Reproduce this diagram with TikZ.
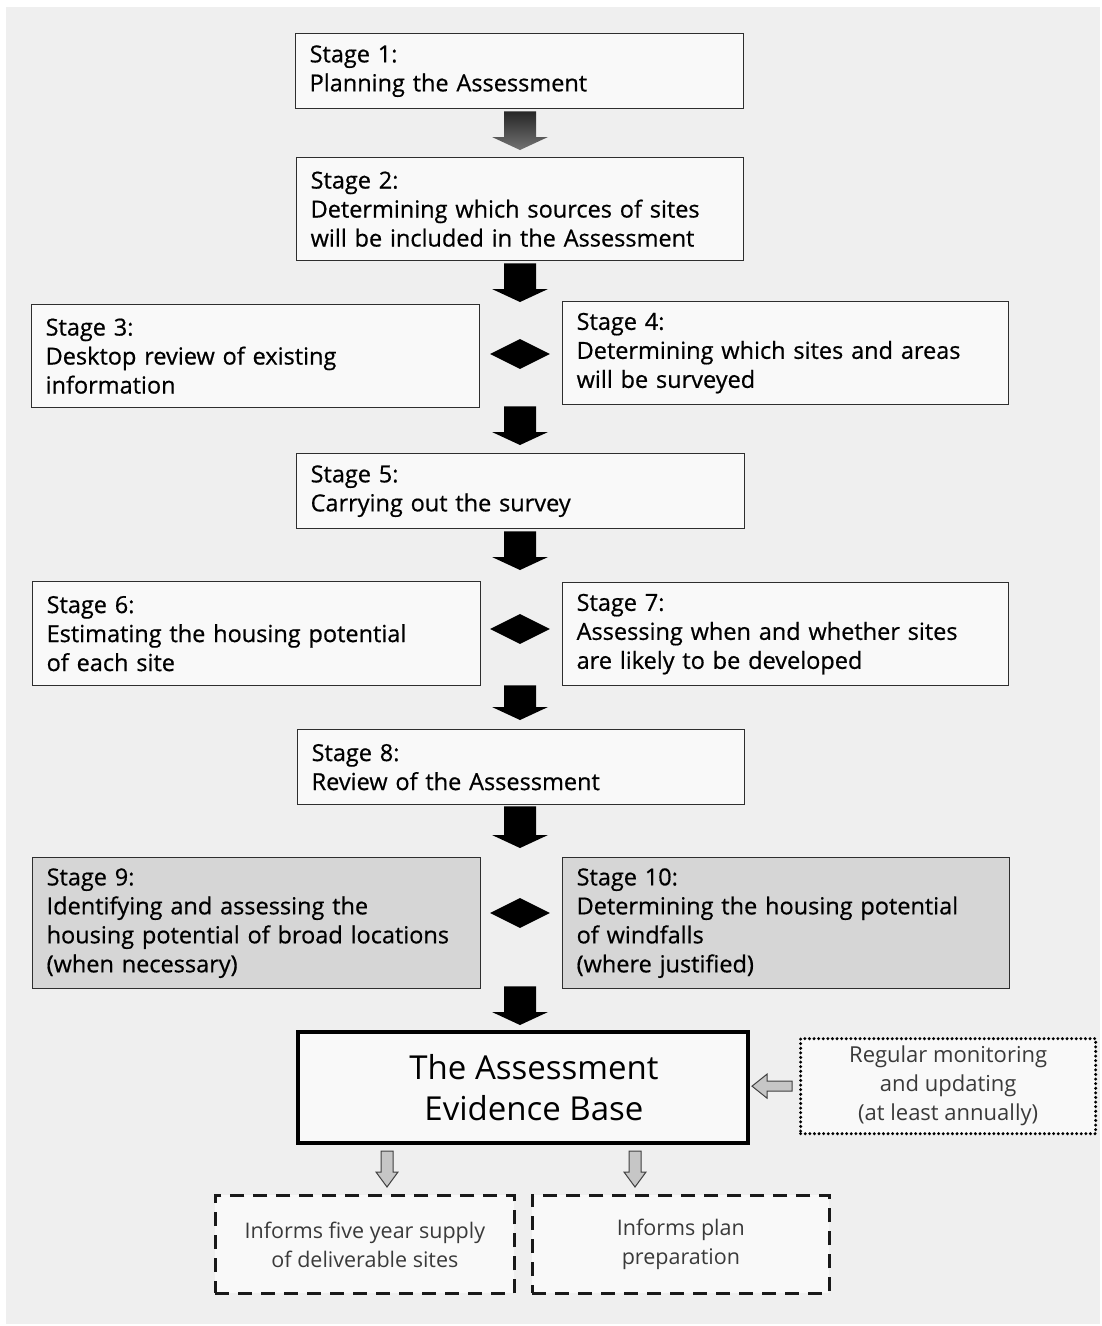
\documentclass[tikz,border=0pt]{standalone}
\usepackage{fontspec}
\setmainfont{Open Sans}
\newfontfamily\stagefont{Open Sans}[FakeBold=0.6]
\usetikzlibrary{calc,shapes.geometric}
\definecolor{pagebg}{HTML}{EFEFEF}
\definecolor{boxfill}{HTML}{F9F9F9}
\definecolor{greyfill}{HTML}{D6D6D6}
\definecolor{hollowfill}{HTML}{C6C6C6}
\definecolor{linegray}{HTML}{2E2E2E}
\definecolor{softtext}{HTML}{3A3A3A}
% solid block arrow pointing down from #2 to #3
\newcommand\blockarrow[3][fill=black]{%
  \path[#1] let \p1=#2, \p2=#3 in
    (\x1-16pt,\y1) -- (\x1+16pt,\y1) -- (\x1+16pt,\y2+13pt) -- (\x1+28pt,\y2+13pt)
    -- (\x1,\y2) -- (\x1-28pt,\y2+13pt) -- (\x1-16pt,\y2+13pt) -- cycle;}
% hollow arrow pointing down
\newcommand\hollowdown[2]{%
  \draw[hollowstyle] let \p1=#1, \p2=#2 in
    (\x1-6pt,\y1) -- (\x1+6pt,\y1) -- (\x1+6pt,\y2+15pt) -- (\x1+11pt,\y2+15pt)
    -- (\x1,\y2) -- (\x1-11pt,\y2+15pt) -- (\x1-6pt,\y2+15pt) -- cycle;}
% hollow arrow pointing left
\newcommand\hollowleft[2]{%
  \draw[hollowstyle] let \p1=#1, \p2=#2 in
    (\x1,\y1+5pt) -- (\x1,\y1-5pt) -- (\x2+15pt,\y1-5pt) -- (\x2+15pt,\y1-12pt)
    -- (\x2,\y1) -- (\x2+15pt,\y1+12pt) -- (\x2+15pt,\y1+5pt) -- cycle;}
\begin{document}
\begin{tikzpicture}[x=1pt,y=-1pt,
  stagebox/.style={draw=linegray, line width=1.3pt, fill=boxfill, anchor=north west,
    inner xsep=14pt, inner ysep=0pt, align=left,
    font=\stagefont\fontsize{23.5}{29}\selectfont},
  greybox/.style={stagebox, fill=greyfill},
  joiner/.style={diamond, fill=black, inner sep=0pt, minimum width=60pt, minimum height=30pt},
  hollowstyle/.style={fill=hollowfill, draw=black!75, line width=1pt, line join=miter},
  evbox/.style={draw=black, line width=4pt, fill=boxfill, anchor=north west,
    inner sep=0pt, align=center, font=\fontsize{33}{41}\selectfont},
  dotbox/.style={draw=black, line width=3.3pt, dash pattern=on 0pt off 4.6pt, line cap=round,
    fill=boxfill, anchor=north west, inner sep=0pt, align=center, text=softtext,
    font=\fontsize{22}{29}\selectfont},
  dashbox/.style={draw=black!90, line width=2.8pt, dash pattern=on 14pt off 9pt,
    fill=boxfill, anchor=north west, inner sep=0pt, align=center, text=softtext,
    font=\fontsize{21.5}{29}\selectfont}
]
\fill[white] (0,0) rectangle (1101,1326);
\fill[pagebg] (6,7) rectangle (1100,1324);
\useasboundingbox (0,0) rectangle (1101,1326);

\node[stagebox, text width=420pt, minimum height=75pt] (s1) at (295,33)
  {Stage 1:\\Planning the Assessment};
\node[stagebox, text width=419pt, minimum height=103pt] (s2) at (296,157)
  {Stage 2:\\Determining which sources of sites\\will be included in the Assessment};
\node[stagebox, text width=420pt, minimum height=103pt] (s3) at (31,304)
  {Stage 3:\\Desktop review of existing\\information};
\node[stagebox, text width=418pt, minimum height=103pt] (s4) at (562,301)
  {Stage 4:\\Determining which sites and areas\\will be surveyed};
\node[stagebox, text width=420pt, minimum height=75pt] (s5) at (296,453)
  {Stage 5:\\Carrying out the survey};
\node[stagebox, text width=420pt, minimum height=104pt] (s6) at (32,581)
  {Stage 6:\\Estimating the housing potential\\of each site};
\node[stagebox, text width=418pt, minimum height=103pt] (s7) at (562,582)
  {Stage 7:\\Assessing when and whether sites\\are likely to be developed};
\node[stagebox, text width=419pt, minimum height=75pt] (s8) at (297,729)
  {Stage 8:\\Review of the Assessment};
\node[greybox, text width=420pt, minimum height=131pt] (s9) at (32,857)
  {Stage 9:\\Identifying and assessing the\\housing potential of broad locations\\(when necessary)};
\node[greybox, text width=419pt, minimum height=131pt] (s10) at (562,857)
  {Stage 10:\\Determining the housing potential\\of windfalls\\(where justified)};
\node[evbox, minimum width=450pt, minimum height=111pt] (ev) at (296,1030)
  {\hspace*{22pt}The Assessment\\\hspace*{22pt}Evidence Base};
\node[dotbox, minimum width=295pt, minimum height=95pt] (mon) at (799,1037)
  {Regular monitoring\\and updating\\(at least annually)};
\node[dashbox, minimum width=299pt, minimum height=98pt] (d1) at (214,1194)
  {Informs five year supply\\of deliverable sites};
\node[dashbox, minimum width=297pt, minimum height=98pt] (d2) at (531,1194)
  {Informs plan\\preparation};

\node[joiner] (j1) at (520,354) {};
\node[joiner] (j2) at (520,629) {};
\node[joiner] (j3) at (520,913) {};

\coordinate (c1) at (520,0);
\blockarrow[top color=black!85, bottom color=black!55]{($(c1 |- s1.south)+(0,2)$)}{($(c1 |- s2.north)+(0,-7)$)}
\blockarrow{($(c1 |- s2.south)+(0,2)$)}{($(j1 |- s4.north)+(0,1)$)}
\blockarrow{($(j1 |- s3.south)+(0,-2)$)}{($(c1 |- s5.north)+(0,-8)$)}
\blockarrow{($(c1 |- s5.south)+(0,2)$)}{($(j2 |- s6.north)+(0,-11)$)}
\blockarrow{($(j2 |- s7.south)+(0,-1)$)}{($(c1 |- s8.north)+(0,-9)$)}
\blockarrow{($(c1 |- s8.south)+(0,1)$)}{($(j3 |- s9.north)+(0,-9)$)}
\blockarrow{($(j3 |- s9.south)+(0,-3)$)}{($(c1 |- ev.north)+(0,-5)$)}

\coordinate (t1) at (387,0);
\coordinate (t2) at (635,0);
\hollowdown{($(t1 |- ev.south)+(0,6)$)}{($(t1 |- d1.north)+(0,-7)$)}
\hollowdown{($(t2 |- ev.south)+(0,6)$)}{($(t2 |- d2.north)+(0,-7)$)}
\hollowleft{($(mon.west)+(-7,0)$)}{($(ev.east)+(2,0)$)}
\end{tikzpicture}
\end{document}
